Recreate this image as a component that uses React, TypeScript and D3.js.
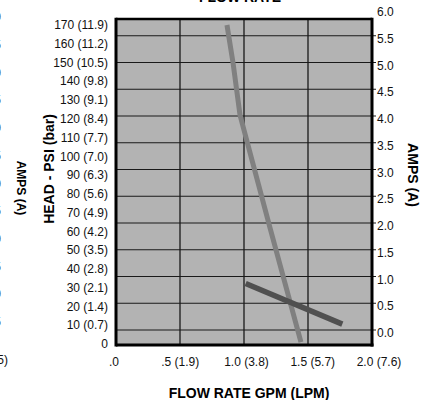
import * as d3 from "d3";

// pump curve
const headGpm = [0.867, 0.914, 0.969, 1.207, 1.445];
const headPsi = [170, 150, 122, 61, 1];

// current draw
const ampsGpm = [1.013, 1.768];
const ampsVal = [0.87, 0.11];

const flowTicks = [0, 0.5, 1.0, 1.5, 2.0];
const flowLabels = [".0", ".5 (1.9)", "1.0 (3.8)", "1.5 (5.7)", "2.0 (7.6)"];

const psiTicks = [0, 10, 20, 30, 40, 50, 60, 70, 80, 90, 100, 110, 120, 130, 140, 150, 160, 170];
const psiLabels = [
  "0", "10 (0.7)", "20 (1.4)", "30 (2.1)", "40 (2.8)", "50 (3.5)", "60 (4.2)",
  "70 (4.9)", "80 (5.6)", "90 (6.3)", "100 (7.0)", "110 (7.7)", "120 (8.4)",
  "130 (9.1)", "140 (9.8)", "150 (10.5)", "160 (11.2)", "170 (11.9)",
];

const ampsTicks = [0, 0.5, 1.0, 1.5, 2.0, 2.5, 3.0, 3.5, 4.0, 4.5, 5.0, 5.5, 6.0];
const ampsLabels = ["0.0", "0.5", "1.0", "1.5", "2.0", "2.5", "3.0", "3.5", "4.0", "4.5", "5.0", "5.5", "6.0"];

const FONT = "'Liberation Sans', Arial, Helvetica, sans-serif";

export default function App() {
  const width = 429;
  const height = 400;
  const plot = { left: 116, right: 372, top: 19, bottom: 345 };

  const x = d3.scaleLinear().domain([0, 2]).range([plot.left, plot.right]);
  const xLabel = x.copy().range([114, 379]);
  const yPsi = d3.scaleLinear().domain([0, 170]).range([344, 25]);
  const yAmps = d3.scaleLinear().domain([0, 6]).range([330, 9]);
  // remnants of the neighbouring chart on the left edge
  const yFrag = d3.scaleLinear().domain([0.5, 6]).range([322, 17]);

  const headLine = d3
    .line<number>()
    .x((d) => x(d))
    .y((_, i) => yPsi(headPsi[i]));

  const ampsLine = d3
    .line<number>()
    .x((d) => x(d))
    .y((_, i) => yAmps(ampsVal[i]));

  const gridAmps = ampsTicks.filter((v) => v < 6);

  return (
    <div style={{ position: "absolute", left: 0, top: 0 }}>
      <svg width={width} height={height} style={{ display: "block" }} fontFamily={FONT}>
        <rect x={0} y={0} width={width} height={height} fill="#ffffff" />

        {/* neighbour fragments */}
        {ampsTicks.filter((v) => v > 0).map((v) => (
          <text key={`f${v}`} x={0.8} y={yFrag(v)} dy="0.35em" textAnchor="end" fontSize={12} fill="#333">
            {ampsLabels[ampsTicks.indexOf(v)]}
          </text>
        ))}
        <text x={8} y={364} textAnchor="end" fontSize={12} fill="#111">2.5 (9.5)</text>
        <text
          transform="translate(21,188) rotate(90)"
          textAnchor="middle"
          dy="0.35em"
          fontSize={12}
          fontWeight="bold"
          fill="#000"
        >
          AMPS (A)
        </text>

        {/* title, cut at the top */}
        <text x={240} y={2} textAnchor="middle" fontSize={14} fontWeight="bold" fill="#000">
          FLOW RATE
        </text>

        {/* plot area */}
        <rect
          x={plot.left}
          y={plot.top}
          width={plot.right - plot.left}
          height={plot.bottom - plot.top}
          fill="#b3b3b3"
        />
        {gridAmps.map((v) => (
          <line key={`h${v}`} x1={plot.left} x2={plot.right + 4} y1={yAmps(v)} y2={yAmps(v)} stroke="#1a1a1a" strokeWidth={1.2} />
        ))}
        {flowTicks.slice(1, -1).map((v) => (
          <line key={`v${v}`} x1={x(v)} x2={x(v)} y1={plot.top} y2={plot.bottom} stroke="#1a1a1a" strokeWidth={1.3} />
        ))}

        {/* curves */}
        <path d={headLine(headGpm) || ""} fill="none" stroke="#808080" strokeWidth={5} strokeLinecap="butt" strokeLinejoin="round" />
        <path d={ampsLine(ampsGpm) || ""} fill="none" stroke="#505050" strokeWidth={5.5} strokeLinecap="butt" />

        {/* frame */}
        <line x1={plot.left} x2={plot.right} y1={plot.top} y2={plot.top} stroke="#000" strokeWidth={2.5} />
        <line x1={plot.left} x2={plot.right + 1.5} y1={plot.bottom} y2={plot.bottom} stroke="#000" strokeWidth={3} />
        <line x1={plot.left} x2={plot.left} y1={plot.top - 1.25} y2={plot.bottom + 1.5} stroke="#000" strokeWidth={3} />
        <line x1={plot.right} x2={plot.right} y1={plot.top - 1.25} y2={plot.bottom + 1.5} stroke="#000" strokeWidth={3} />

        {/* left axis labels */}
        {psiTicks.map((v, i) => (
          <text key={`p${v}`} x={108} y={yPsi(v)} dy="0.35em" textAnchor="end" fontSize={12} fill="#111">
            {psiLabels[i]}
          </text>
        ))}

        {/* right axis labels */}
        {ampsTicks.map((v, i) => (
          <text key={`a${v}`} x={377} y={yAmps(v) + 3} dy="0.35em" textAnchor="start" fontSize={12} fill="#111">
            {ampsLabels[i]}
          </text>
        ))}

        {/* bottom axis labels */}
        {flowTicks.map((v, i) => (
          <text key={`x${v}`} x={xLabel(v)} y={366} textAnchor="middle" fontSize={12} fill="#111">
            {flowLabels[i]}
          </text>
        ))}

        {/* axis titles */}
        <text x={249} y={398} textAnchor="middle" fontSize={14} fontWeight="bold" fill="#000">
          FLOW RATE GPM (LPM)
        </text>
        <text
          transform="translate(49,169) rotate(-90)"
          textAnchor="middle"
          dy="0.35em"
          fontSize={14}
          fontWeight="bold"
          fill="#000"
        >
          HEAD - PSI (bar)
        </text>
        <text
          transform="translate(413,175) rotate(90)"
          textAnchor="middle"
          dy="0.35em"
          fontSize={14}
          fontWeight="bold"
          fill="#000"
        >
          AMPS (A)
        </text>
      </svg>
    </div>
  );
}
